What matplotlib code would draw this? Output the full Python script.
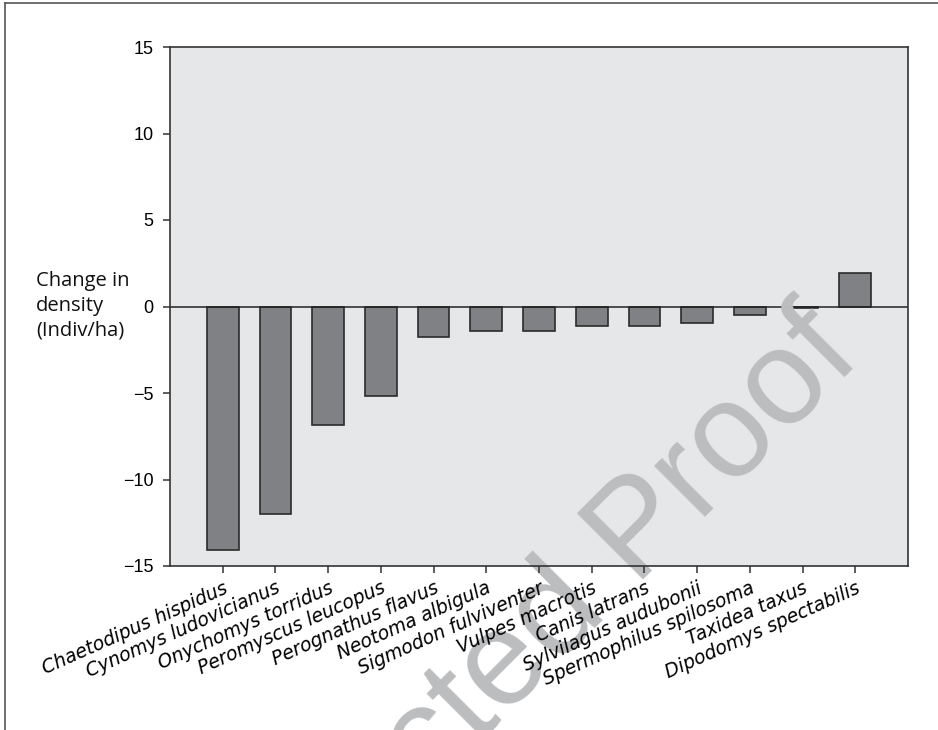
import matplotlib
matplotlib.use("Agg")
import matplotlib.pyplot as plt
from matplotlib.lines import Line2D

species = ["Chaetodipus hispidus", "Cynomys ludovicianus", "Onychomys torridus",
           "Peromyscus leucopus", "Perognathus flavus", "Neotoma albigula",
           "Sigmodon fulviventer", "Vulpes macrotis", "Canis latrans",
           "Sylvilagus audubonii", "Spermophilus spilosoma", "Taxidea taxus",
           "Dipodomys spectabilis"]
change = [-14.1, -12.0, -6.85, -5.15, -1.74, -1.4, -1.4, -1.1, -1.1, -0.98, -0.52, -0.06, 1.93]
yticks = [-15, -10, -5, 0, 5, 10, 15]

W, H = 938, 730
fig = plt.figure(figsize=(W / 100, H / 100), dpi=100)
ax = fig.add_axes([170 / W, 1 - 566 / H, 738 / W, 519 / H])
ax.set_facecolor("#e6e7e8")
ax.set_axisbelow(False)

x = list(range(len(species)))
ax.bar(x, change, width=0.6, color="#808184", edgecolor="#2b2b2b", linewidth=1.2, zorder=1)
ax.axhline(0, color="#222222", linewidth=1.1, zorder=2)

ax.set_xlim(-1, len(species))
ax.set_ylim(-15, 15)
ax.set_yticks(yticks)
ax.set_yticklabels([str(v).replace("-", "\u2212") for v in yticks],
                   family="Liberation Sans", fontsize=13)
ax.set_xticks(x)
ax.set_xticklabels(species, rotation=24, ha="right", rotation_mode="anchor",
                   family="DejaVu Sans", fontstyle="oblique", fontsize=13.5)
ax.tick_params(axis="y", length=5, width=1.1, color="#333333", pad=7)
ax.tick_params(axis="x", length=5, width=1.1, color="#333333", pad=4)
for s in ax.spines.values():
    s.set_color("#333333")
    s.set_linewidth(1.2)

fig.text(36 / W, 1 - 306 / H, "Change in\ndensity\n(Indiv/ha)", ha="left", va="center",
         family="Open Sans", fontsize=14.5, linespacing=1.3, color="#111111")

# watermark
ax.text(527 / W, 1 - 695 / H, "Corrected Proof", transform=fig.transFigure,
        rotation=45, rotation_mode="anchor", ha="center", va="baseline",
        fontsize=97, color="#bcbdbf", family="Liberation Sans", zorder=2.4, clip_on=False)

# frame lines (top and left)
fig.add_artist(Line2D([4.5 / W, 4.5 / W], [0, 1 - 3 / H], transform=fig.transFigure,
                      color="#555555", linewidth=1.2))
fig.add_artist(Line2D([4.5 / W, 1], [1 - 3 / H, 1 - 3 / H], transform=fig.transFigure,
                      color="#555555", linewidth=1.2))

fig.savefig("out.png", dpi=100)
